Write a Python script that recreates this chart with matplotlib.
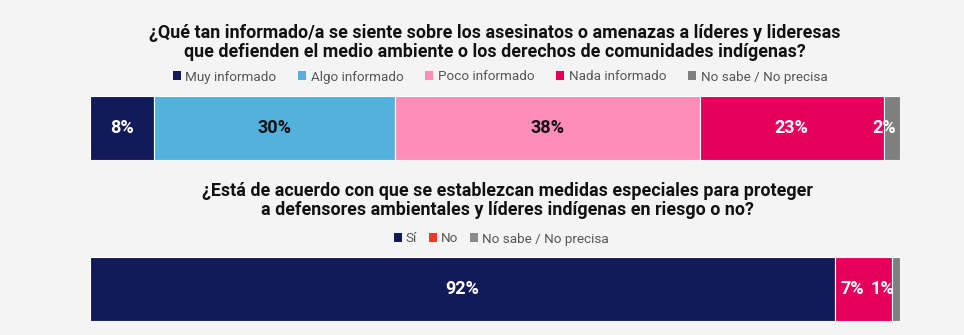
import matplotlib
matplotlib.use("Agg")
import matplotlib.pyplot as plt
from matplotlib.patches import Patch
import matplotlib.transforms as mtransforms

plt.rcParams['font.family'] = ['Roboto', 'DejaVu Sans']

# Question 1
q1_title = ("¿Qué tan informado/a se siente sobre los asesinatos o amenazas a líderes y lideresas\n"
            "que defienden el medio ambiente o los derechos de comunidades indígenas?")
q1_categories = ['Muy informado', 'Algo informado', 'Poco informado', 'Nada informado', 'No sabe / No precisa']
q1_values = [8, 30, 38, 23, 2]

# Question 2
q2_title = ("¿Está de acuerdo con que se establezcan medidas especiales para proteger\n"
            "a defensores ambientales y líderes indígenas en riesgo o no?")
q2_categories = ['Sí', 'No', 'No sabe / No precisa']
q2_values = [92, 7, 1]

# styling
q1_colors = ['#131a5a', '#52b1dd', '#ff8db9', '#e4005b', '#7f7f7f']
q1_text_colors = ['white', '#111111', '#111111', 'white', 'white']
q1_label_shift = [0, 0, 0, 0, -7.5]          # px, horizontal nudge of labels
q2_colors = ['#131a5a', '#e4005b', '#7f7f7f']
q2_legend_colors = ['#131a5a', '#ef3b24', '#8a8a8a']
q2_text_colors = ['white', 'white', 'white']
q2_label_shift = [0, -11, -13.5]

BG = '#f4f4f4'
W, H = 964, 335
fig = plt.figure(figsize=(W / 100, H / 100), dpi=100, facecolor=BG)


def px_axes(x0, y0, x1, y1):
    return fig.add_axes([x0 / W, 1 - y1 / H, (x1 - x0) / W, (y1 - y0) / H])


def stacked_bar(ax, values, colors, text_colors, shifts):
    ax.set_facecolor('none')
    left = 0
    total = sum(values)
    for v, c, tc, s in zip(values, colors, text_colors, shifts):
        ax.barh(0, v, left=left, color=c, height=1.0, edgecolor='white', linewidth=0.8)
        tr = ax.transData + mtransforms.ScaledTranslation(s / 100, 0, fig.dpi_scale_trans)
        ax.text(left + v / 2, 0, f"{v}%", ha='center', va='center', color=tc,
                fontsize=13, fontweight='bold', transform=tr)
        left += v
    ax.set_xlim(0, total)
    ax.set_ylim(-0.5, 0.5)
    ax.axis('off')


ax1 = px_axes(90, 96, 900, 160)
stacked_bar(ax1, q1_values, q1_colors, q1_text_colors, q1_label_shift)
ax2 = px_axes(90, 257, 900, 321)
stacked_bar(ax2, q2_values, q2_colors, q2_text_colors, q2_label_shift)

fig.text(495 / W, 1 - 42.5 / H, q1_title, ha='center', va='center', fontsize=12.9,
         fontweight='bold', color='#111111', linespacing=1.05)
fig.text(507 / W, 1 - 200.5 / H, q2_title, ha='center', va='center', fontsize=12.9,
         fontweight='bold', color='#111111', linespacing=1.05)

h1 = [Patch(facecolor=c, edgecolor='none') for c in q1_colors]
fig.legend(h1, q1_categories, loc='center', bbox_to_anchor=(500 / W, 1 - 77 / H),
           ncol=len(q1_categories), frameon=False, fontsize=9.7, labelcolor='#555555',
           handlelength=0.6, handleheight=0.6, handletextpad=0.35, columnspacing=1.6,
           borderpad=0, borderaxespad=0)

h2 = [Patch(facecolor=c, edgecolor='none') for c in q2_legend_colors]
fig.legend(h2, q2_categories, loc='center', bbox_to_anchor=(501 / W, 1 - 239 / H),
           ncol=len(q2_categories), frameon=False, fontsize=9.7, labelcolor='#555555',
           handlelength=0.6, handleheight=0.6, handletextpad=0.3, columnspacing=0.85,
           borderpad=0, borderaxespad=0)

fig.savefig('out.png', dpi=100, facecolor=BG)
